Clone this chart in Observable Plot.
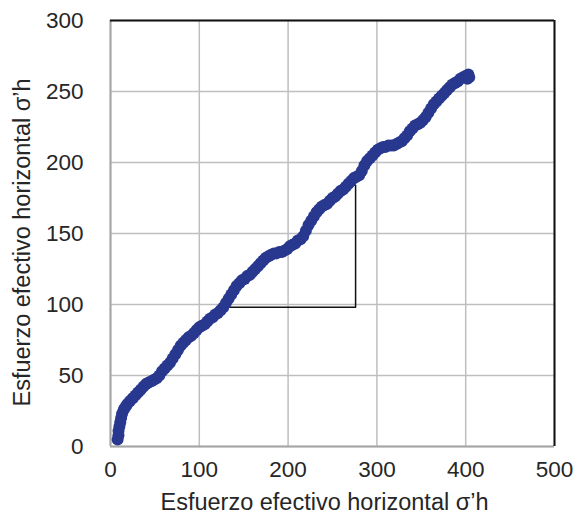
<!DOCTYPE html>
<html><head><meta charset="utf-8">
<script src="https://cdn.jsdelivr.net/npm/d3@7"></script>
<script src="https://cdn.jsdelivr.net/npm/@observablehq/plot@0.6"></script>
<style>body{margin:0;background:#fff;font-family:"Liberation Sans",Arial,sans-serif}</style>
</head><body><div id="chart"></div>
<script>
const xs=[8,9,9,10,11,12,13,15,17,19,22,25,28,31,34,37,40,43,46,49,52,55,58,61,64,67,70,73,76,79,82,85,88,91,94,97,100,103,106,109,112,115,118,121,124,127,130,133,136,139,142,145,148,151,154,157,160,163,166,169,172,175,178,181,184,187,190,193,196,199,202,205,208,211,214,217,220,223,226,229,232,235,238,241,244,247,250,253,256,259,262,265,268,271,274,277,280,283,286,289,292,295,298,301,304,307,310,313,316,319,322,325,328,331,334,337,340,343,346,349,352,355,358,361,364,367,370,373,376,379,382,385,388,391,394,397,400,403,402,404];
const ys=[5,8,11,14,17,20,23,26,28,30,32,34,36,38,40,42,44,45,46,47,48,50,53,55,57,59,62,65,68,71,73,75,77,78,80,82,84,85,86,88,90,91,93,94,96,98,101,104,107,110,113,115,117,118,120,121,123,125,127,129,131,133,134,135,136,136,137,137,138,139,141,142,143,145,146,148,152,156,159,162,165,167,169,170,171,173,175,176,178,180,181,183,185,187,189,190,191,194,198,201,203,205,207,209,210,211,211,212,212,212,213,214,215,217,219,222,224,226,227,228,230,232,235,238,241,243,245,247,249,251,253,255,256,257,259,260,261,262,259,260];
const xTicks=[0,100,200,300,400,500];
const yTicks=[0,50,100,150,200,250,300];
const triX=[133,276,276];
const triY=[98,98,184];
const xLabel="Esfuerzo efectivo horizontal σ’h";
const yLabel="Esfuerzo efectivo horizontal σ’h";

const data=xs.map((x,i)=>({x,y:ys[i]}));
const tri=triX.map((x,i)=>({x,y:triY[i]}));
const blue="#29388f";
const chart=Plot.plot({
  width:583,height:517,
  marginLeft:110,marginRight:29,marginTop:20,marginBottom:71,
  style:{fontFamily:"Liberation Sans, Arial, sans-serif",fontSize:"22px",background:"#fff",color:"#262626"},
  x:{domain:[0,500],ticks:xTicks,label:null,axis:null},
  y:{domain:[0,300],ticks:yTicks,label:null,axis:null},
  marks:[
    Plot.gridX(xTicks,{stroke:"#bfbfbf",strokeOpacity:1,strokeWidth:1.5}),
    Plot.gridY(yTicks,{stroke:"#bfbfbf",strokeOpacity:1,strokeWidth:1.5}),
    Plot.ruleX([0],{stroke:"#a6a6a6",strokeWidth:2}),
    Plot.ruleY([0],{stroke:"#a6a6a6",strokeWidth:2}),
    Plot.ruleY([300],{stroke:"#111",strokeWidth:2}),
    Plot.ruleX([500],{stroke:"#111",strokeWidth:2}),
    Plot.line(tri,{x:"x",y:"y",stroke:"#111",strokeWidth:1.5}),
    Plot.dot(data,{x:"x",y:"y",r:6,fill:blue,stroke:null}),
    Plot.axisX(xTicks,{tickSize:0,tickPadding:15,fontSize:22.5,label:null}),
    Plot.axisY(yTicks,{tickSize:0,tickPadding:27,fontSize:22.5,label:null}),
    Plot.text([xLabel],{frameAnchor:"bottom",dy:56,dx:-8,textAnchor:"middle",lineAnchor:"middle",fontSize:23.5}),
    Plot.text([yLabel],{frameAnchor:"left",dx:-88,dy:9,rotate:-90,textAnchor:"middle",lineAnchor:"middle",fontSize:23.5})
  ]
});
document.getElementById("chart").appendChild(chart);
</script>
</body></html>
